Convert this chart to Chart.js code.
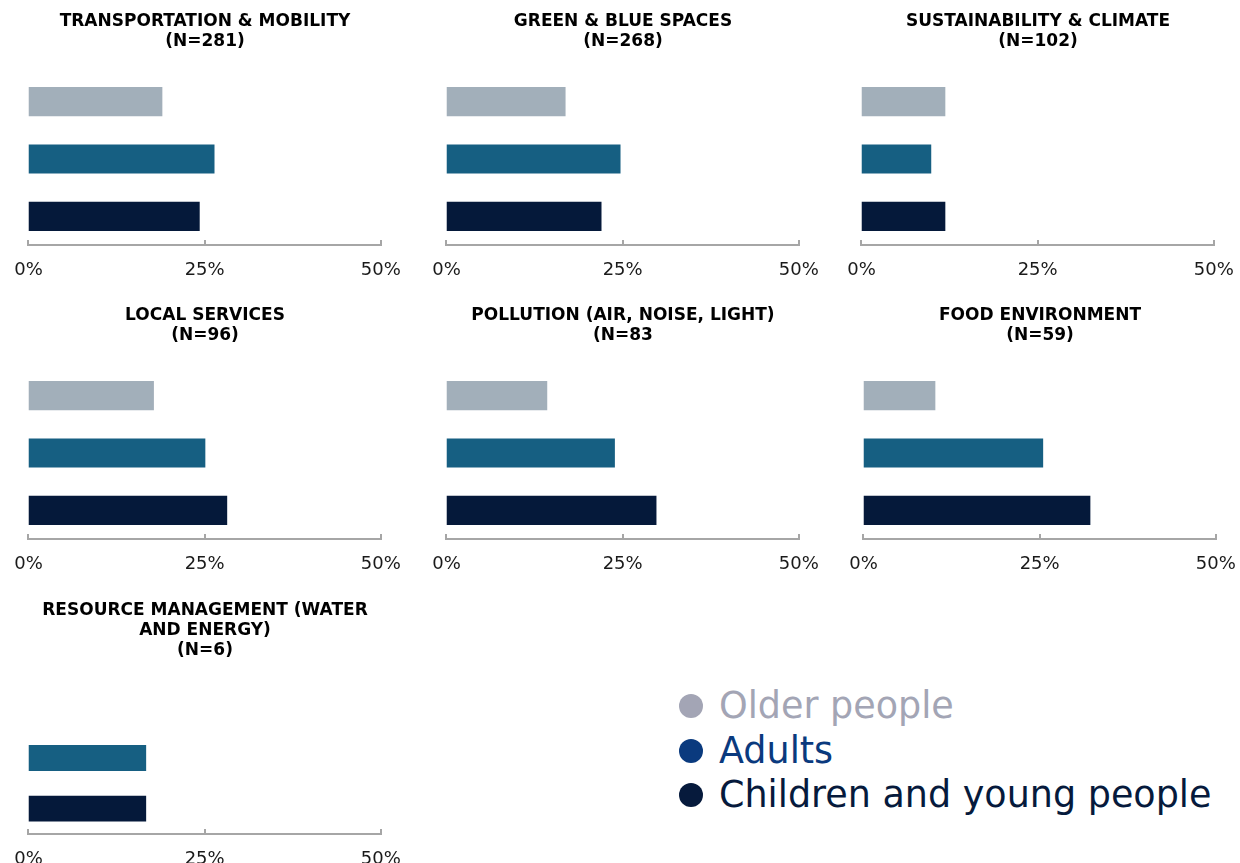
<!DOCTYPE html>
<html>
<head>
<meta charset="utf-8">
<script src="https://cdn.jsdelivr.net/npm/chart.js@4"></script>
<style>
  html, body { margin: 0; padding: 0; background: #fff; }
  body { width: 1240px; height: 863px; overflow: hidden; position: relative; }
  canvas.panel { position: absolute; }
  #legend {
    position: absolute; left: 679px; top: 684px;
    font-family: "DejaVu Sans", sans-serif;
    font-size: 36.5px; line-height: 44.5px;
  }
  #legend .row { display: flex; align-items: center; height: 44.5px; white-space: nowrap; }
  #legend .dot { width: 24px; height: 24px; border-radius: 50%; margin-right: 16px; }
</style>
</head>
<body>
<div id="legend"></div>
<script>
// topics, split into the lines shown in each panel title
const topics = [
  ['TRANSPORTATION & MOBILITY'],
  ['GREEN & BLUE SPACES'],
  ['SUSTAINABILITY & CLIMATE'],
  ['LOCAL SERVICES'],
  ['POLLUTION (AIR, NOISE, LIGHT)'],
  ['FOOD ENVIRONMENT'],
  ['RESOURCE MANAGEMENT (WATER', 'AND ENERGY)']
];
const sampleLabels = ['(N=281)', '(N=268)', '(N=102)', '(N=96)', '(N=83', '(N=59)', '(N=6)'];

const groups = ['Older people', 'Adults', 'Children and young people'];

// share of mentions per group, in %
const older    = [19.0, 16.9, 11.9, 17.8, 14.3, 10.2, 0];
const adults   = [26.4, 24.7,  9.9, 25.1, 23.9, 25.5, 16.7];
const children = [24.3, 22.0, 11.9, 28.2, 29.8, 32.2, 16.7];

const axisTicks = [0, 25, 50];

const barColors = ['#A2AFBA', '#165F82', '#05193A'];
const legendColors = ['#A3A5B5', '#0A3A7E', '#061A3C'];

// panel canvas positions
const panelPos = [
  { left: 0, top: 0 }, { left: 418, top: 0 }, { left: 833, top: 0 },
  { left: 0, top: 294 }, { left: 418, top: 294 }, { left: 835, top: 294 },
  { left: 0, top: 589 }
];

// small tick marks standing up from the axis line
const upTicks = {
  id: 'upTicks',
  afterDraw(chart) {
    const x = chart.scales.x;
    const ctx = chart.ctx;
    ctx.save();
    ctx.strokeStyle = '#A6A6A6';
    ctx.lineWidth = 2;
    x.ticks.forEach(t => {
      const px = Math.round(x.getPixelForValue(t.value));
      ctx.beginPath();
      ctx.moveTo(px, x.top + 1);
      ctx.lineTo(px, x.top - 5);
      ctx.stroke();
    });
    ctx.restore();
  }
};

topics.forEach((lines, i) => {
  const canvas = document.createElement('canvas');
  canvas.className = 'panel';
  canvas.width = 415;
  canvas.height = 296;
  canvas.style.left = panelPos[i].left + 'px';
  canvas.style.top = panelPos[i].top + 'px';
  document.body.appendChild(canvas);

  new Chart(canvas.getContext('2d'), {
    type: 'bar',
    data: {
      labels: groups,
      datasets: [{
        data: [older[i], adults[i], children[i]],
        backgroundColor: barColors,
        barPercentage: 0.51,
        categoryPercentage: 1
      }]
    },
    options: {
      indexAxis: 'y',
      responsive: false,
      animation: false,
      layout: { padding: { left: 27, right: 32, top: 0, bottom: 1 } },
      plugins: {
        legend: { display: false },
        tooltip: { enabled: false },
        title: {
          display: true,
          text: lines.concat([sampleLabels[i]]),
          color: '#000',
          font: { family: 'DejaVu Sans', size: 17, weight: 'bold', lineHeight: 20 / 17 },
          padding: { top: 12, bottom: 21 }
        }
      },
      scales: {
        x: {
          min: 0,
          max: 50,
          afterBuildTicks: scale => {
            scale.ticks = axisTicks.map(v => ({ value: v }));
          },
          grid: { display: false, drawTicks: false },
          border: { display: true, color: '#A6A6A6', width: 2 },
          ticks: {
            padding: 14.2,
            color: '#1A1A1A',
            font: { family: 'DejaVu Sans', size: 18, lineHeight: 1.2 },
            callback: v => v + '%'
          }
        },
        y: { display: false }
      }
    },
    plugins: [upTicks]
  });
});

// legend
const legend = document.getElementById('legend');
groups.forEach((g, k) => {
  const row = document.createElement('div');
  row.className = 'row';
  row.style.color = legendColors[k];
  const dot = document.createElement('span');
  dot.className = 'dot';
  dot.style.background = legendColors[k];
  const label = document.createElement('span');
  label.textContent = g;
  row.appendChild(dot);
  row.appendChild(label);
  legend.appendChild(row);
});
</script>
</body>
</html>
